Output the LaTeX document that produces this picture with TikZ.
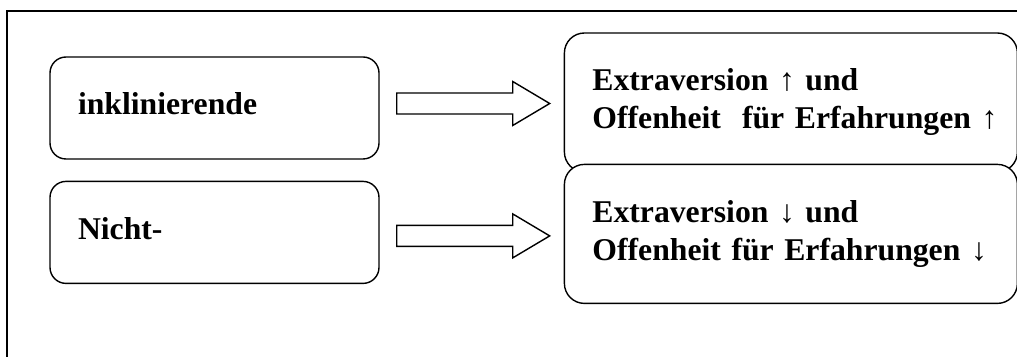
\documentclass[tikz,border=0pt]{standalone}
\usepackage{fontspec}
\setmainfont{Liberation Serif}
\usetikzlibrary{positioning}

\begin{document}
\begin{tikzpicture}[
    x=1pt, y=1pt,
    line width=1.4pt,
    node distance=21pt,
    label font/.style={font=\bfseries\fontsize{31.7}{38}\selectfont},
    group/.style={draw, rounded corners=16pt, fill=white, align=left, label font,
      text width=273pt, inner xsep=28pt, minimum height=102pt,
      text height=22pt, text depth=8pt},
    effect/.style={draw, rounded corners=20pt, fill=white, align=left, label font,
      text width=397pt, inner xsep=28pt, minimum height=139pt},
    % hollow block arrow, drawn from the middle of its tail
    fat arrow/.pic={
      \draw[fill=white, line join=miter] (0,10.5) -- (116,10.5) -- (116,22) -- (153,0)
        -- (116,-22) -- (116,-10.5) -- (0,-10.5) -- cycle;
    },
  ]
  \useasboundingbox (0,0) rectangle (1017,356);
  % frame, runs off the page at the right and the bottom
  \draw (7,-10) rectangle (1030,345);

  \node[group] (inkl) at (214.5,248) {inklinierende};
  \node[group, below=of inkl] (nicht) {Nicht-};

  \coordinate[right=17pt of inkl, yshift=4.5pt] (upTail);
  \coordinate[right=17pt of nicht, yshift=-3.5pt] (downTail);
  \pic at (upTail) {fat arrow};
  \pic at (downTail) {fat arrow};

  \node[effect, right=167pt of upTail, yshift=1pt] (high)
    {Extraversion~↑ und\\\mbox{Offenheit~ für Erfahrungen~↑}};
  \node[effect, right=167pt of downTail, yshift=2pt] (low)
    {Extraversion~↓ und\\\mbox{Offenheit für Erfahrungen~↓}};
\end{tikzpicture}
\end{document}
